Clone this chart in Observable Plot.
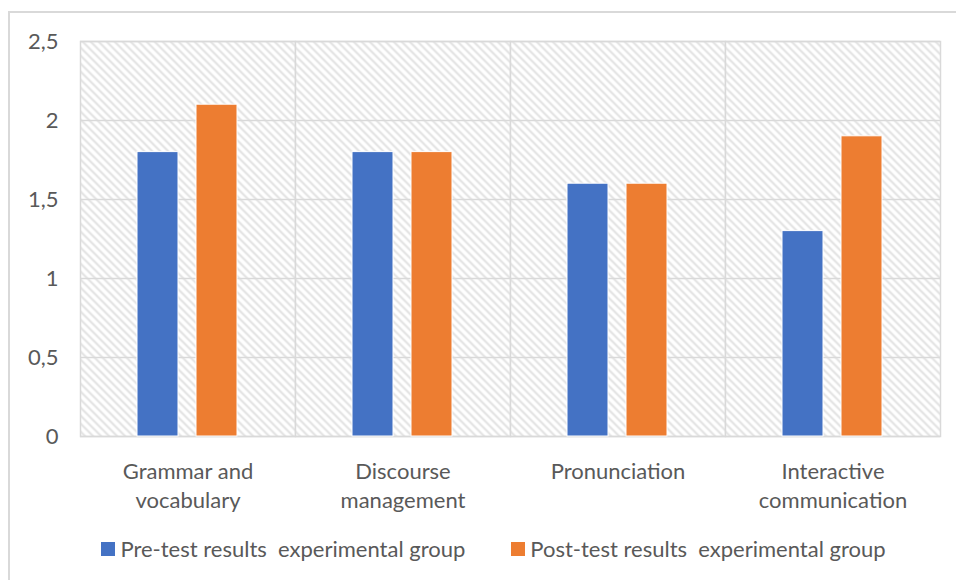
<!DOCTYPE html>
<html>
<head>
<meta charset="utf-8">
<script src="https://cdn.jsdelivr.net/npm/d3@7"></script>
<script src="https://cdn.jsdelivr.net/npm/@observablehq/plot@0.6"></script>
<style>
  html, body { margin: 0; padding: 0; background: #fff; overflow: hidden; }
  #page { position: relative; width: 956px; height: 580px; overflow: hidden; font-family: Lato, sans-serif; }
  #frame { position: absolute; left: 8px; top: 11px; width: 1000px; height: 1000px; border: 2px solid #d9d9d9; box-sizing: border-box; }
  #chart { position: absolute; left: 0; top: 0; }
  #chart svg { background: transparent; }
  #legend { position: absolute; left: 0; top: 536px; width: 987px; height: 26px; display: flex; justify-content: center; align-items: center; gap: 46px; color: #595959; font-size: 22px; }
  .item { display: flex; align-items: center; white-space: pre; line-height: 26px; }
  .swatch { width: 14px; height: 14px; margin-right: 5px; }
</style>
</head>
<body>
<div id="page">
  <div id="frame"></div>
  <div id="chart"></div>
  <div id="legend"></div>
</div>
<script>
// Skill areas on the x axis (label line breaks given separately)
const categories = ["Grammar and vocabulary", "Discourse management", "Pronunciation", "Interactive communication"];
const categoryLabels = ["Grammar and\nvocabulary", "Discourse\nmanagement", "Pronunciation", "Interactive\ncommunication"];
// The two series
const series = ["Pre-test results  experimental group", "Post-test results  experimental group"];
const preTest = [1.8, 1.8, 1.6, 1.3];
const postTest = [2.1, 1.8, 1.6, 1.9];
const seriesColors = ["#4472C4", "#ED7D31"];
// Value axis ticks
const yTicks = [0, 0.5, 1, 1.5, 2, 2.5];

const values = [preTest, postTest];
const rows = [];
categories.forEach((c, i) => {
  series.forEach((s, j) => rows.push({category: c, series: s, value: values[j][i]}));
});
const labelOf = new Map(categories.map((c, i) => [c, categoryLabels[i]]));
const grey = "#d9d9d9";

const svg = Plot.plot({
  width: 956,
  height: 530,
  marginLeft: 79,
  marginRight: 15,
  marginTop: 41,
  marginBottom: 94,
  style: {fontFamily: "Lato, sans-serif", fontSize: "22px", color: "#595959", background: "transparent"},
  fx: {domain: categories, padding: 0},
  x: {domain: series, paddingInner: 0.3, paddingOuter: 0.95, axis: null},
  y: {domain: [0, 2.5], label: null},
  color: {domain: series, range: seriesColors},
  marks: [
    Plot.frame({fill: "url(#hatch)", stroke: grey, strokeWidth: 1.5}),
    Plot.gridY({ticks: yTicks, stroke: grey, strokeOpacity: 1, strokeWidth: 1.5}),
    Plot.axisY({ticks: yTicks, tickSize: 0, tickPadding: 22, tickFormat: d => String(d).replace(".", ","), label: null}),
    Plot.axisFx({anchor: "bottom", tickSize: 0, tickPadding: 22, lineHeight: 1.32, tickFormat: d => labelOf.get(d), label: null}),
    Plot.barY(rows, {fx: "category", x: "series", y: "value", fill: "series", stroke: "white", strokeWidth: 1})
  ]
});

// Diagonal hatch used as the plot-area background
const pattern = d3.select(svg).insert("defs", ":first-child")
  .append("pattern")
  .attr("id", "hatch")
  .attr("patternUnits", "userSpaceOnUse")
  .attr("width", 8)
  .attr("height", 8);
pattern.append("rect").attr("width", 8).attr("height", 8).attr("fill", "white");
pattern.append("path")
  .attr("d", "M-2,-2L10,10M-2,6L2,10M6,-2L10,2")
  .attr("stroke", "#e2e2e2")
  .attr("stroke-width", 2);

document.getElementById("chart").appendChild(svg);

// Legend below the chart
const legend = d3.select("#legend");
series.forEach((s, j) => {
  const item = legend.append("div").attr("class", "item");
  item.append("div").attr("class", "swatch").style("background", seriesColors[j]);
  item.append("span").text(s);
});
</script>
</body>
</html>
